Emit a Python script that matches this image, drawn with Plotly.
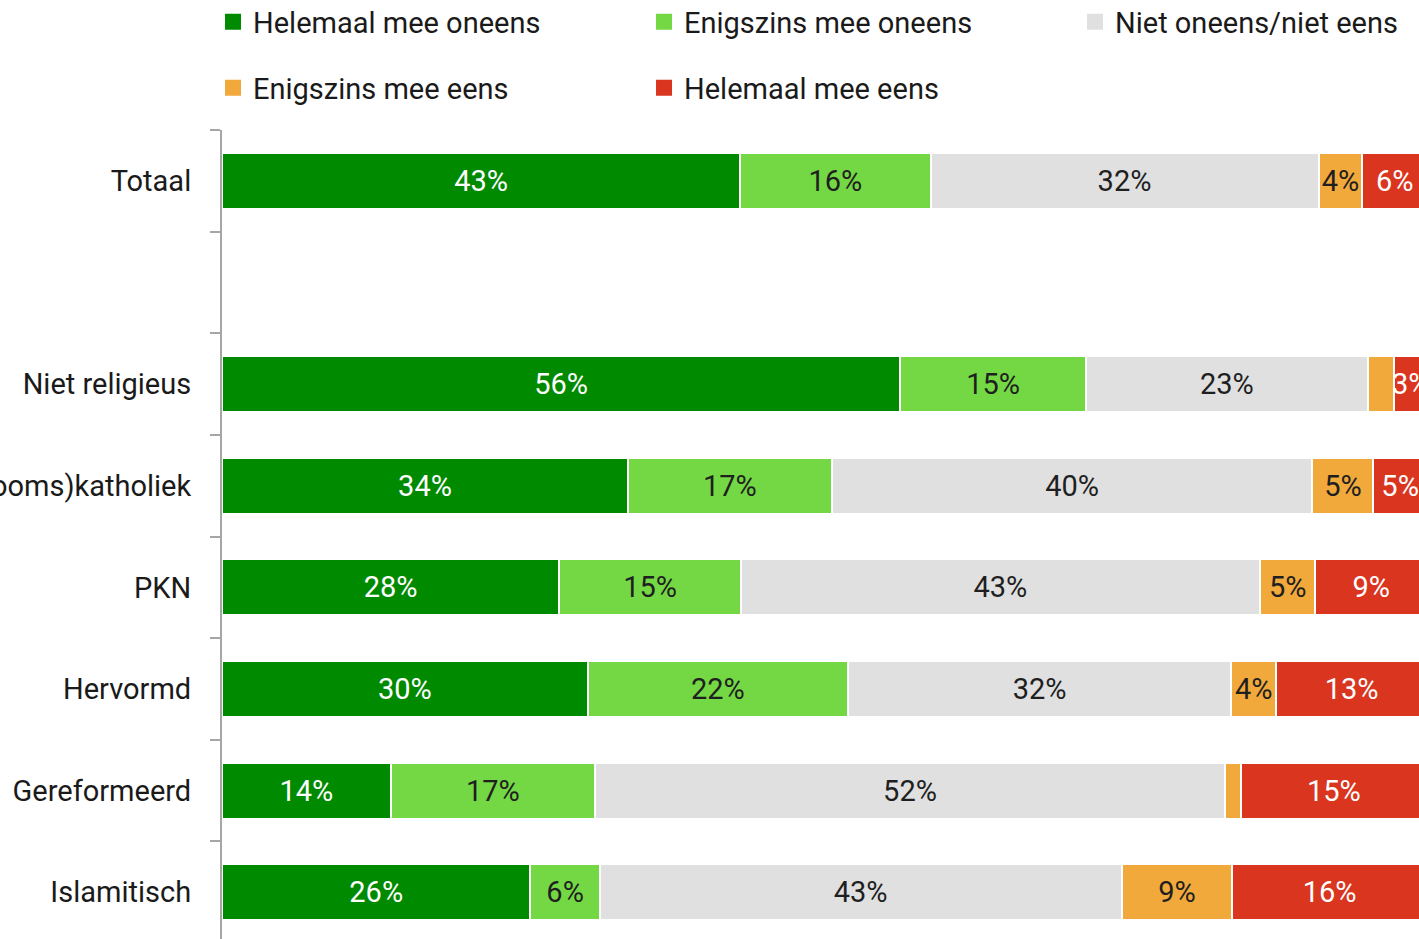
import plotly.graph_objects as go

# y-axis categories, top to bottom (one blank spacer row after "Totaal")
categories = ["Totaal", " ", "Niet religieus", "(Rooms)katholiek", "PKN",
              "Hervormd", "Gereformeerd", "Islamitisch"]
bar_categories = ["Totaal", "Niet religieus", "(Rooms)katholiek", "PKN",
                  "Hervormd", "Gereformeerd", "Islamitisch"]

series_names = ["Helemaal mee oneens", "Enigszins mee oneens",
                "Niet oneens/niet eens", "Enigszins mee eens", "Helemaal mee eens"]

# segment widths (percent)
helemaal_oneens = [43.0, 56.3, 33.7, 28.0, 30.35, 14.0, 25.6]
enigszins_oneens = [15.8, 15.4, 16.9, 15.05, 21.6, 16.95, 5.75]
neutraal = [32.2, 23.4, 39.9, 43.1, 31.8, 52.3, 43.3]
enigszins_eens = [3.65, 2.2, 5.05, 4.6, 3.75, 1.3, 9.2]
helemaal_eens = [5.35, 2.7, 4.45, 9.25, 12.5, 15.45, 16.15]

# printed labels
labels_helemaal_oneens = ["43%", "56%", "34%", "28%", "30%", "14%", "26%"]
labels_enigszins_oneens = ["16%", "15%", "17%", "15%", "22%", "17%", "6%"]
labels_neutraal = ["32%", "23%", "40%", "43%", "32%", "52%", "43%"]
labels_enigszins_eens = ["4%", "", "5%", "5%", "4%", "", "9%"]
labels_helemaal_eens = ["6%", "3%", "5%", "9%", "13%", "15%", "16%"]

colors = ["#008a00", "#74d845", "#e0e0e0", "#f2a93b", "#d9351f"]
text_colors = ["#ffffff", "#1f1f1f", "#1f1f1f", "#1f1f1f", "#ffffff"]

values = [helemaal_oneens, enigszins_oneens, neutraal, enigszins_eens, helemaal_eens]
labels = [labels_helemaal_oneens, labels_enigszins_oneens, labels_neutraal,
          labels_enigszins_eens, labels_helemaal_eens]

FONT = "Roboto"
FS = 29

fig = go.Figure()
for name, vals, labs, col, tcol in zip(series_names, values, labels, colors, text_colors):
    fig.add_trace(go.Bar(
        x=vals, y=bar_categories, orientation="h", name=name,
        marker=dict(color=col, line=dict(color="#ffffff", width=2)),
        text=labs, texttemplate="%{text}", textposition="inside",
        insidetextanchor="middle", constraintext="none", textangle=0,
        insidetextfont=dict(family=FONT, size=FS, color=tcol),
        showlegend=False, hoverinfo="skip",
    ))

# legend entries (square markers), split over two rows
for i, (name, col) in enumerate(zip(series_names, colors)):
    fig.add_trace(go.Scatter(
        x=[None], y=[None], mode="markers", name=name,
        marker=dict(symbol="square", size=16, color=col),
        legend="legend" if i < 3 else "legend2", showlegend=True,
    ))

legend_common = dict(
    orientation="h", xref="paper", yref="paper", x=-0.0075, xanchor="left",
    yanchor="middle", entrywidth=386, entrywidthmode="pixels",
    traceorder="normal",
    font=dict(family=FONT, size=FS, color="#1a1a1a"),
    bgcolor="rgba(0,0,0,0)", borderwidth=0,
)

fig.update_layout(
    width=1419, height=939,
    margin=dict(l=222, r=0, t=130, b=0, pad=0, autoexpand=False),
    paper_bgcolor="#ffffff", plot_bgcolor="#ffffff",
    barmode="stack", bargap=0.45,
    uniformtext=dict(minsize=FS, mode="show"),
    font=dict(family=FONT, size=FS, color="#1a1a1a"),
    legend=dict(y=1.1335, **legend_common),
    legend2=dict(y=1.0519, **legend_common),
    xaxis=dict(visible=False, range=[0, 99.34], fixedrange=True),
    yaxis=dict(
        type="category", categoryorder="array", categoryarray=categories,
        range=[7.46, -0.5], showgrid=False, zeroline=False,
        showline=True, linecolor="#a6a6a6", linewidth=2,
        ticks="outside", tickson="boundaries", ticklen=10, tickwidth=2,
        tickcolor="#a6a6a6", ticklabelstandoff=23, fixedrange=True,
        tickfont=dict(family=FONT, size=FS, color="#1a1a1a"),
    ),
)

fig.write_html("out.html", config={"displayModeBar": False},
               post_script="document.body.style.margin='0px';")
